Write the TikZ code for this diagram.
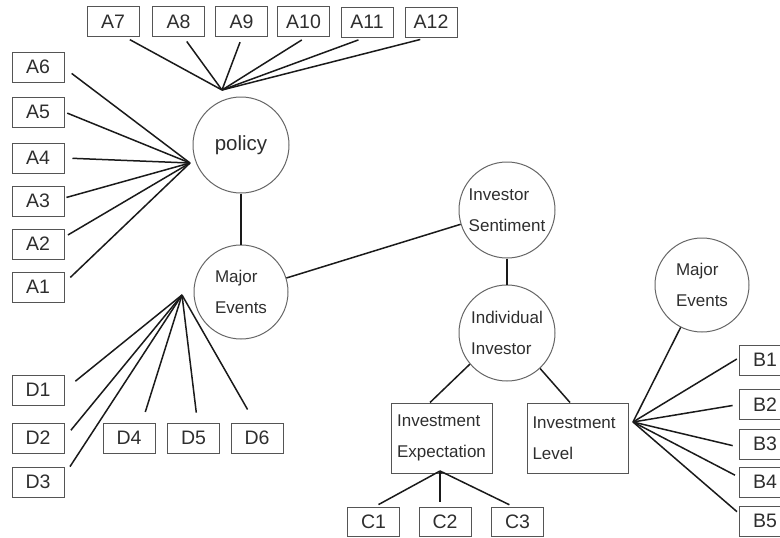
\documentclass[tikz,border=0pt]{standalone}
\usepackage{fontspec}
\setmainfont{Liberation Sans}
\definecolor{txt}{HTML}{2E2E2E}
\definecolor{bord}{HTML}{555555}
\definecolor{cbord}{HTML}{666666}
\definecolor{ln}{HTML}{1A1A1A}
\begin{document}
\begin{tikzpicture}[x=1pt,y=-1pt,
  lbl/.style={draw=bord,line width=1pt,minimum width=52pt,minimum height=30pt,inner sep=0pt,text=txt,font=\fontsize{19.5}{21}\selectfont},
  bigbox/.style={draw=bord,line width=1pt,minimum width=101pt,minimum height=70pt,inner sep=0pt,text=txt,align=left,font=\fontsize{17}{31}\selectfont},
  circ/.style={circle,draw=cbord,line width=1pt,minimum size=96pt,inner sep=0pt,text=txt,align=left,font=\fontsize{17}{31}\selectfont},
  conn/.style={draw=ln,line width=1.5pt}]
\useasboundingbox (0,0) rectangle (780,538);
\clip (0,0) rectangle (780,538);
% top A boxes
\node[lbl] (A7) at (113,21.5) {A7};
\node[lbl] (A8) at (178.5,21.5) {A8};
\node[lbl] (A9) at (241.5,21.5) {A9};
\node[lbl] (A10) at (303.5,21.5) {A10};
\node[lbl] (A11) at (367,22) {A11};
\node[lbl] (A12) at (431,22) {A12};
% left A boxes
\node[lbl] (A6) at (38,67) {A6};
\node[lbl] (A5) at (38,112) {A5};
\node[lbl] (A4) at (38,158) {A4};
\node[lbl] (A3) at (38,201) {A3};
\node[lbl] (A2) at (38,244) {A2};
\node[lbl] (A1) at (38,287) {A1};
% D boxes
\node[lbl] (D1) at (38,390) {D1};
\node[lbl] (D2) at (38,438) {D2};
\node[lbl] (D3) at (38,482) {D3};
\node[lbl] (D4) at (129,438) {D4};
\node[lbl] (D5) at (193.5,438) {D5};
\node[lbl] (D6) at (257,438) {D6};
% circles
\node[circ,font=\fontsize{20.5}{24}\selectfont] (pol) at (241,145) {policy};
\node[circ,minimum size=94pt] (maj) at (241,292) {Major\\Events};
\node[circ] (sent) at (507,210) {Investor\\Sentiment};
\node[circ] (ind) at (507,333) {Individual\\Investor};
\node[circ,minimum size=94pt] (maj2) at (702,285) {Major\\Events};
% big boxes
\node[bigbox] (exp) at (441.5,438) {Investment\\Expectation};
\node[bigbox,text width=90pt] (lev) at (577.5,438) {Investment\\Level};
% C boxes
\node[lbl,minimum height=29pt] (C1) at (373.5,521.5) {C1};
\node[lbl,minimum height=29pt] (C2) at (445,521.5) {C2};
\node[lbl,minimum height=29pt] (C3) at (517.5,521.5) {C3};
% B boxes
\node[lbl] (B1) at (765,360) {B1};
\node[lbl] (B2) at (765,404.5) {B2};
\node[lbl] (B3) at (765,444) {B3};
\node[lbl] (B4) at (765,482) {B4};
\node[lbl] (B5) at (765,521) {B5};
% hubs
\coordinate (hA) at (190,163);
\coordinate (hT) at (222,90);
\coordinate (hD) at (182,295);
\coordinate (hC) at (440,471);
\coordinate (hB) at (633,422);
% top connectors
\draw[conn,shorten >=5.5pt] (hT) -- ([xshift=12pt]A7.south);
\draw[conn,shorten >=5.5pt] (hT) -- ([xshift=5pt]A8.south);
\draw[conn,shorten >=5.5pt] (hT) -- ([xshift=0.5pt]A9.south);
\draw[conn,shorten >=5.5pt] (hT) -- ([xshift=3pt]A10.south);
\draw[conn,shorten >=7pt] (hT) -- ([xshift=-2pt]A11.south);
\draw[conn,shorten >=8pt] (hT) -- ([xshift=-3pt]A12.south);
% left connectors
\draw[conn,shorten >=9pt] (hA) -- ([yshift=-1pt]A6.east);
\draw[conn,shorten >=3pt] (hA) -- (A5.east);
\draw[conn,shorten >=8pt] (hA) -- (A4.east);
\draw[conn,shorten >=2pt] (hA) -- ([yshift=3pt]A3.east);
\draw[conn,shorten >=4pt] (hA) -- ([yshift=7pt]A2.east);
\draw[conn,shorten >=8pt] (hA) -- ([yshift=4pt]A1.east);
% D connectors
\draw[conn,shorten >=14pt] (hD) -- (D1.east);
\draw[conn,shorten >=10pt] (hD) -- (D2.east);
\draw[conn,shorten >=10pt] (hD) -- ([yshift=7pt]D3.east);
\draw[conn,shorten >=11pt] (hD) -- ([xshift=13pt]D4.north);
\draw[conn,shorten >=10pt] (hD) -- ([xshift=4pt]D5.north);
\draw[conn,shorten >=15pt] (hD) -- ([xshift=-2pt]D6.north);
% main chain
\draw[conn] (pol.south) -- (maj.north);
\draw[conn] (maj) -- (sent);
\draw[conn] (sent.south) -- (ind.north);
\draw[conn] (ind.-140) -- ([xshift=-11.5pt]exp.north);
\draw[conn] (ind.-47) -- ([xshift=-7.5pt]lev.north);
% C connectors
\draw[conn] (hC) -- (exp.south);
\draw[conn,shorten >=4pt] (hC) -- ([xshift=1.5pt]C1.north);
\draw[conn,shorten >=5pt] (hC) -- ([xshift=-5pt]C2.north);
\draw[conn,shorten >=4pt] (hC) -- ([xshift=-4.5pt]C3.north);
% B connectors
\draw[conn] (hB) -- (maj2);
\draw[conn,shorten >=2pt] (hB) -- ([yshift=2pt]B1.west);
\draw[conn,shorten >=6pt] (hB) -- (B2.west);
\draw[conn,shorten >=6pt] (hB) -- ([yshift=-3pt]B3.west);
\draw[conn,shorten >=4pt] (hB) -- ([yshift=5pt]B4.west);
\draw[conn,shorten >=2pt] (hB) -- ([yshift=8pt]B5.west);
\end{tikzpicture}
\end{document}
